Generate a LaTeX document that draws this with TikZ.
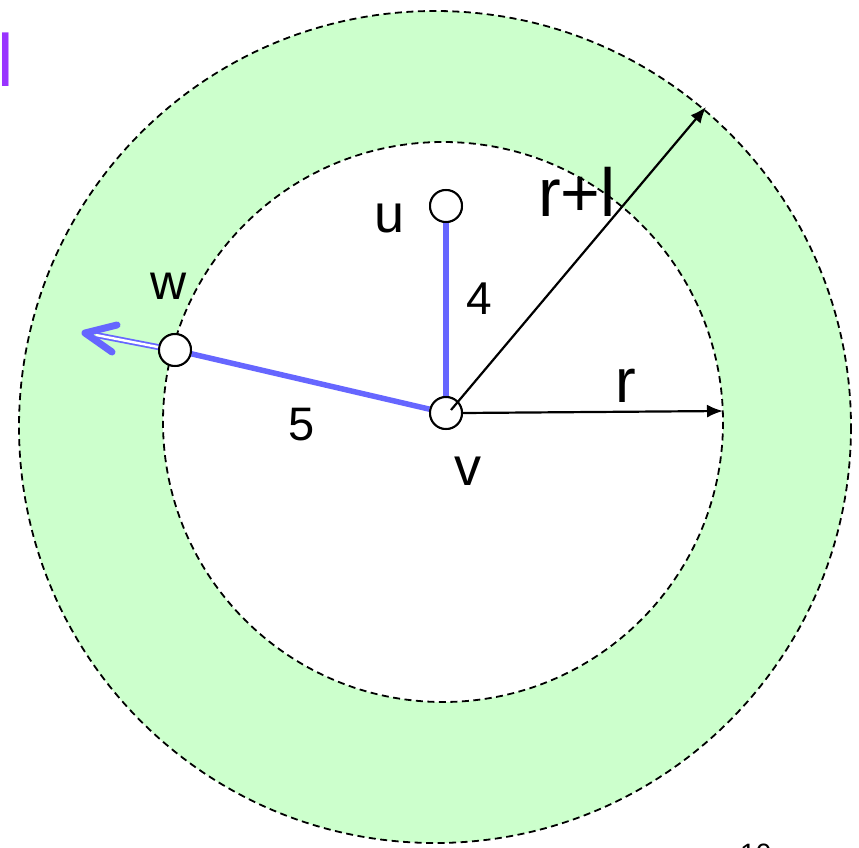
\documentclass[tikz,border=0pt]{standalone}
\usepackage{fontspec}
\setmainfont{Liberation Sans}
\usetikzlibrary{arrows.meta}
\definecolor{ringgreen}{HTML}{CCFFCC}
\definecolor{edgeblue}{HTML}{6666FF}
\definecolor{lpurple}{HTML}{9933FF}
\tikzset{
  vert/.style={circle, draw=black, fill=white, line width=2pt, minimum size=32pt, inner sep=0pt},
  bound/.style={draw=black, dash pattern=on 7pt off 4.5pt, line width=1.8pt},
  edge/.style={draw=edgeblue, line width=5.5pt},
  radius arrow/.style={draw=black, line width=2.2pt, -{Latex[length=16pt,width=13pt]}},
  lbl/.style={inner sep=0pt, font=\fontsize{54}{60}\selectfont},
  numlbl/.style={inner sep=0pt, font=\fontsize{47}{52}\selectfont},
}
\begin{document}
\begin{tikzpicture}[x=1pt,y=-1pt]
\useasboundingbox (0,0) rectangle (859,848);
% ring
\fill[ringgreen] (435,427) circle (416);
\fill[white] (443,422) circle (280);
\draw[bound] (435,427) circle (416);
\draw[bound] (443,422) circle (280);
% nodes
\node[vert] (u) at (446,206) {};
\node[vert] (v) at (446,413) {};
\node[vert] (w) at (175,350) {};
\coordinate (wtip) at (85,333);
\coordinate (wtail) at (163,348);
\coordinate (rend) at (723,411);
\coordinate (rlend) at (706,107);
\coordinate (vc) at (451,410);
% blue edges
\draw[edge] (u) -- (v);
\draw[edge] (v) -- (w);
\draw[draw=edgeblue, line width=1.8pt, double=white, double distance=2.4pt] (wtail) -- (96,335);
\draw[draw=edgeblue, line width=7pt, line cap=round, line join=round] (117,325) -- (wtip) -- (112,352);
% redraw nodes on top
\node[vert] at (u) {};
\node[vert] at (v) {};
\node[vert] at (w) {};
% radius arrows
\draw[radius arrow] (v.east) -- (rend);
\draw[radius arrow] (vc) -- (rlend);
% labels
\node[lbl] (lu) at (390,218) {u};
\node[lbl, font=\fontsize{50}{56}\selectfont] (lw) at (169,286) {w};
\node[lbl] (lv) at (468,471) {v};
\node[numlbl, font=\fontsize{46}{50}\selectfont] (l4) at (479,299) {4};
\node[numlbl] (l5) at (302,425) {5};
\node[lbl, font=\fontsize{62}{68}\selectfont] (lr) at (626,386) {r};
\node[lbl, font=\fontsize{68}{74}\selectfont] (lrl) at (577,192) {r+l};
\node[anchor=base west, inner sep=0pt, text=lpurple, font=\fontsize{74}{80}\selectfont] (lpur) at (-3,87) {l};
\node[anchor=north west, inner sep=0pt, font=\fontsize{28}{30}\selectfont] (pg) at (740,844) {10};
\end{tikzpicture}
\end{document}
